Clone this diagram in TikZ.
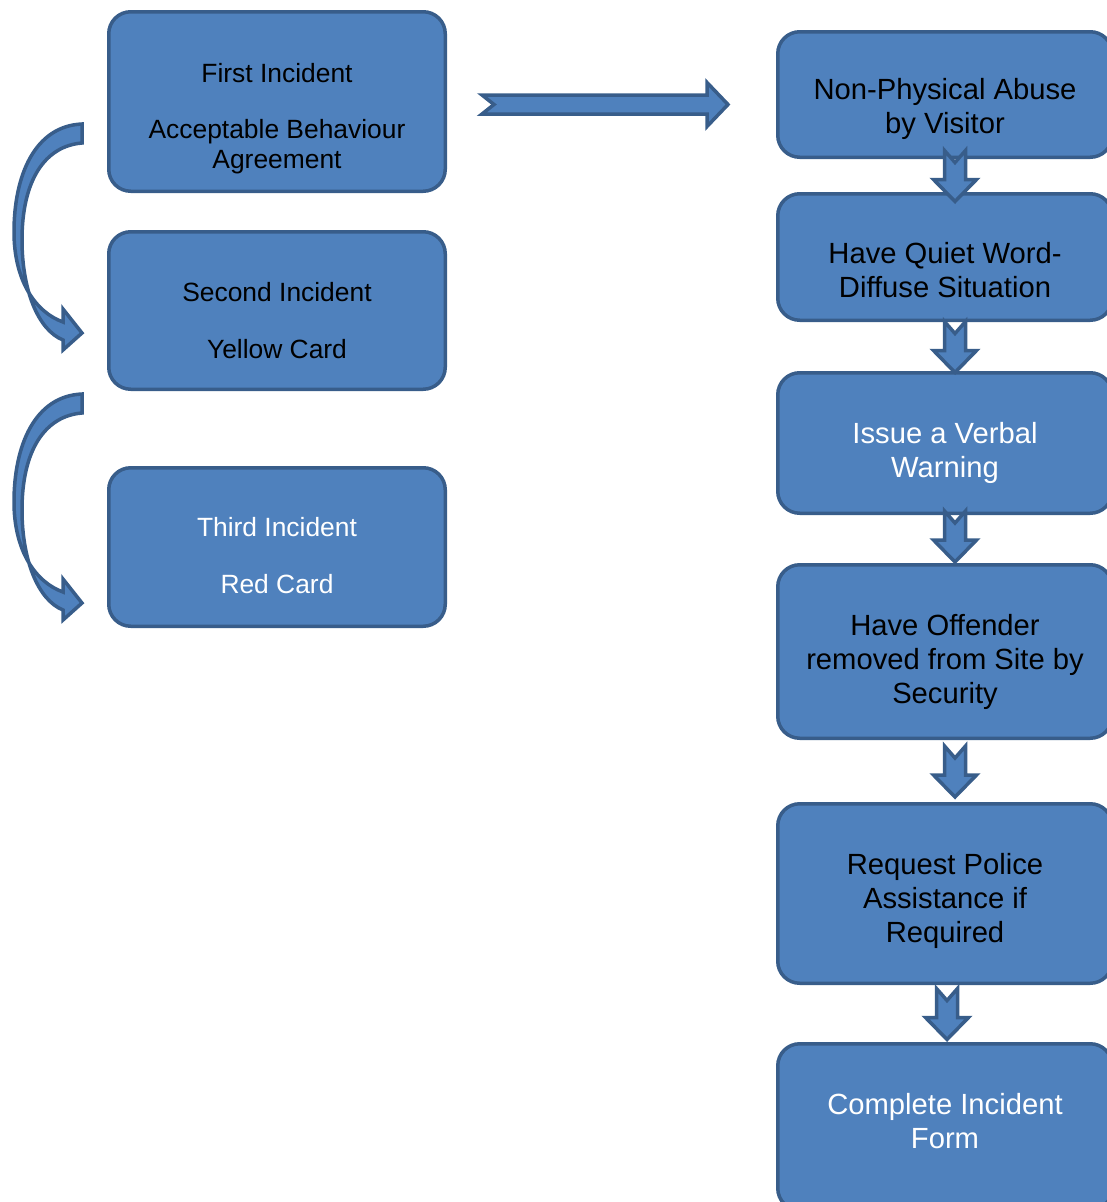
\documentclass[tikz,border=0pt]{standalone}
\usepackage{fontspec}
\setmainfont{Liberation Sans}
\usetikzlibrary{calc}
\definecolor{smartfill}{HTML}{4F81BD}
\definecolor{smartline}{HTML}{385D8A}
\tikzset{box/.style = {draw=smartline, fill=smartfill, line width=3.5pt,
                       rounded corners=22pt, inner sep=0pt},
         lefttext/.style = {anchor=north, align=center, inner sep=0pt,
                            font=\fontsize{26.4}{30}\selectfont},
         righttext/.style = {anchor=north, align=center, inner sep=0pt,
                             font=\fontsize{29.2}{34}\selectfont},
         blockarrow/.style = {draw=smartline, fill=smartfill, line width=3.5pt},
         downblock/.pic = {\filldraw [blockarrow] (-10.5, -25) -- (0, -13) -- (10.5, -25)
                             -- (10.5, 4) -- (21.5, 4) -- (0, 26) -- (-21.5, 4) -- (-10.5, 4) -- cycle;},
         curvearrow/.pic = {\filldraw [blockarrow] (0, -209)
                             .. controls (-47, -207) and (-68, -158) .. (-68, -101)
                             .. controls (-68, -53) and (-47, -21) .. (-19, -11)
                             -- (-19, -24) -- (0, 0) -- (-19, 17) -- (-19, 7)
                             .. controls (-44, -3) and (-60, -43) .. (-60, -93)
                             .. controls (-60, -153) and (-37, -187) .. (0, -190) -- cycle;}}

\begin{document}
\begin{tikzpicture}[x=1pt, y=-1pt]
      \useasboundingbox (0, 0) rectangle (1107, 1202);
      \clip (0, 0) rectangle (1107, 1202);
      % incidents
      \node [box, minimum width=336.5, minimum height=179.5] (first) at (277, 101.5) {};
      \node [box, minimum width=336.5, minimum height=157.5] (second) at (277, 310.5) {};
      \node [box, minimum width=336.5, minimum height=158.5] (third) at (277, 547) {};
      \node [lefttext] (firsttxt) at (277, 63) {First Incident\\[26pt]Acceptable Behaviour\\Agreement};
      \node [lefttext] (secondtxt) at (277, 282) {Second Incident\\[27pt]Yellow Card};
      \node [lefttext, text=white] (thirdtxt) at (277, 517) {Third Incident\\[27pt]Red Card};
      \pic at (82, 333) {curvearrow};
      \pic at (82, 603) {curvearrow};
      % procedure
      \node [box, minimum width=334.5, minimum height=125.5] (abuse) at (945, 94.5) {};
      \node [box, minimum width=334.5, minimum height=126.5] (quiet) at (945, 257) {};
      \node [box, minimum width=334.5, minimum height=140.5] (verbal) at (945, 443) {};
      \node [box, minimum width=334.5, minimum height=173.5] (removed) at (945, 651.5) {};
      \node [box, minimum width=334.5, minimum height=179.5] (police) at (945, 893.5) {};
      \node [box, minimum width=334.5, minimum height=166.5] (form) at (945, 1127) {};
      \node [righttext] (abusetxt) at (945, 78) {Non-Physical Abuse\\by Visitor};
      \node [righttext] (quiettxt) at (945, 242) {Have Quiet Word-\\Diffuse Situation};
      \node [righttext, text=white] (verbaltxt) at (945, 422) {Issue a Verbal\\Warning};
      \node [righttext] (removedtxt) at (945, 614) {Have Offender\\removed from Site by\\Security};
      \node [righttext] (policetxt) at (945, 853) {Request Police\\Assistance if\\Required};
      \node [righttext, text=white] (formtxt) at (945, 1093) {Complete Incident\\Form};
      \pic at ($(abuse.south)!0.5!(quiet.north) + (10, 0)$) {downblock};
      \pic at ($(quiet.south)!0.5!(verbal.north) + (10, 0)$) {downblock};
      \pic at ($(verbal.south)!0.5!(removed.north) + (10, -3)$) {downblock};
      \pic at ($(removed.south)!0.5!(police.north) + (10, 0)$) {downblock};
      \pic at ($(police.south)!0.5!(form.north) + (2, 0)$) {downblock};
      % across
      \coordinate (htail) at (482, 104.5);
      \filldraw [blockarrow] (htail) ++(0, -9.5) -- ++(225, 0) -- ++(0, -12.5) -- ++(21, 22)
                -- ++(-21, 22) -- ++(0, -12.5) -- ++(-225, 0) -- ++(12, -9.5) -- cycle;
\end{tikzpicture}
\end{document}
